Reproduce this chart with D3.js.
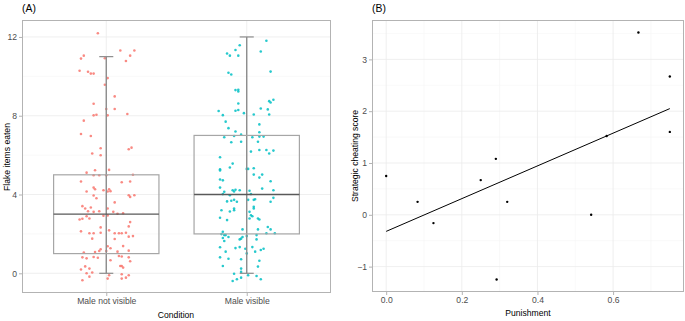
<!DOCTYPE html>
<html lang="en">
  <head>
    <meta charset="UTF-8" />
    <title>flake and punishment</title>
    <script src="https://cdn.jsdelivr.net/npm/d3@7/dist/d3.min.js"></script>
    <style>
      body { margin: 0; background: #fff; }
      text { font-family: "Liberation Sans", Arial, sans-serif; }
    </style>
  </head>
  <body>
    <div id="wrapper"></div>
    <script>
      // ---- panel A data ----
      const conditions = ["Male not visible", "Male visible"];
      const pointColors = ["#F8766D", "#00BFC4"];
      const boxLower = [1, 2];
      const boxMedian = [3, 4];
      const boxUpper = [5, 7];
      const whiskerLow = [0, 0];
      const whiskerHigh = [11, 12];
      const flakeTicks = [0, 4, 8, 12];
      const flakeMinor = [2, 6, 10];

      // [items eaten, jitter offset from category]
      const notVisiblePoints = [
        [12.19,-0.06],[11.31,0.10],[11.31,0.20],[11.05,0.17],[11.05,-0.16],[10.9,-0.18],[10.78,0.14],
        [10.92,-0.01],[10.28,-0.19],[10.23,-0.13],[10.14,-0.11],[10.14,-0.09],[9.91,0.01],[9.57,-0.01],
        [8.98,0.06],[8.61,-0.09],[8.34,0.0],[8.34,0.06],[8.09,0.15],[8.05,-0.07],[8.02,-0.09],[8.02,0.01],
        [7.75,-0.16],[7.07,-0.18],[6.97,-0.11],[6.35,-0.04],[6.38,0.18],[6.3,0.16],[6.08,-0.10],[5.99,-0.04],
        [5.25,0.02],[5.23,-0.08],[5.11,-0.14],[4.98,-0.09],[4.98,-0.05],[4.98,0.0],[5.0,0.19],[4.66,-0.18],
        [4.62,0.11],[4.66,0.17],[4.35,-0.09],[4.27,-0.08],[4.22,-0.02],[4.27,0.02],[4.17,0.03],[4.15,0.01],
        [4.15,-0.14],[3.95,-0.09],[3.81,-0.07],[3.96,0.16],[3.88,0.17],[3.96,0.20],[3.6,0.06],[3.41,-0.17],
        [3.29,-0.15],[3.34,-0.11],[3.29,0.01],[3.15,-0.13],[3.12,-0.09],[3.15,-0.05],[3.12,0.05],[3.02,0.08],
        [3.05,0.12],[2.92,-0.02],[2.94,0.01],[2.9,-0.14],[2.78,-0.12],[2.73,-0.19],[2.77,-0.17],[2.6,0.17],
        [2.38,0.16],[2.33,-0.04],[2.18,0.02],[2.13,-0.18],[2.03,-0.12],[2.03,-0.09],[2.06,-0.04],[2.03,0.06],
        [2.03,0.09],[2.03,0.11],[2.06,0.14],[1.86,0.16],[1.89,0.19],[1.76,-0.10],[1.74,0.06],[1.38,0.12],
        [1.37,0.01],[1.27,0.03],[1.22,-0.04],[1.13,-0.05],[1.13,0.0],[1.08,-0.08],[1.10,0.08],[1.15,0.16],
        [1.05,-0.16],[0.79,-0.06],[0.83,-0.09],[0.81,-0.17],[0.76,-0.14],[0.66,0.03],[0.88,0.09],[0.85,0.11],
        [0.81,0.16],[0.61,0.17],[0.37,0.10],[0.37,0.11],[0.29,0.12],[0.35,-0.15],[0.24,-0.12],[0.19,-0.18],
        [0.04,-0.10],[0.0,-0.14],[-0.1,0.02],[-0.05,0.11],[-0.1,0.16],[-0.17,-0.12],[-0.27,0.01],[-0.27,0.11],
        [-0.22,0.14],[-0.35,-0.17]
      ];
      const visiblePoints = [
        [11.81,0.14],[11.58,-0.05],[11.34,-0.08],[11.26,0.10],[11.16,-0.14],[11.05,-0.12],[11.05,-0.06],
        [10.24,0.17],[10.18,-0.13],[10.09,-0.11],[9.3,-0.08],[9.32,-0.06],[9.23,-0.06],[8.62,-0.06],
        [8.81,0.19],[8.74,0.16],[8.67,0.17],[8.24,-0.20],[8.25,-0.08],[8.29,-0.06],[8.37,0.10],[8.32,0.15],
        [8.03,-0.17],[8.13,-0.02],[8.06,0.05],[8.06,0.16],[7.7,-0.15],[7.56,0.09],[7.37,-0.13],[7.2,-0.08],
        [7.16,0.09],[6.91,-0.16],[6.97,-0.09],[7.04,-0.04],[6.91,0.04],[6.94,0.09],[6.94,0.12],[6.65,-0.11],
        [6.68,-0.04],[6.68,0.08],[6.18,0.03],[6.26,0.09],[6.26,0.14],[6.23,0.19],[6.08,0.16],[5.89,-0.19],
        [5.57,-0.10],[5.28,-0.19],[5.22,-0.19],[5.37,-0.12],[5.3,0.0],[5.3,0.01],[5.33,0.05],[5.01,0.05],
        [5.01,0.11],[4.86,0.09],[4.76,-0.19],[4.72,-0.17],[4.67,0.17],[4.35,-0.19],[4.22,-0.10],[4.24,-0.08],
        [4.22,-0.05],[4.15,-0.09],[4.14,-0.16],[4.19,0.02],[4.3,0.11],[4.22,0.19],[4.02,-0.17],[3.96,-0.12],
        [4.02,0.03],[3.83,0.19],[3.65,-0.14],[3.68,-0.11],[3.73,-0.09],[3.63,-0.07],[3.73,0.01],[3.73,0.05],
        [3.76,0.06],[3.63,0.17],[3.38,0.05],[3.29,0.05],[3.2,-0.18],[3.14,-0.12],[3.29,-0.09],[3.2,-0.09],
        [3.12,0.02],[2.95,0.03],[2.9,0.04],[2.78,0.02],[2.78,0.08],[2.73,0.09],[2.82,-0.19],[2.7,-0.14],
        [2.35,0.15],[2.23,0.17],[2.23,-0.03],[2.23,0.08],[2.03,0.14],[2.03,0.20],[1.94,0.07],[2.11,-0.17],
        [1.99,-0.18],[1.94,-0.16],[1.94,-0.15],[1.79,-0.17],[1.64,-0.16],[1.84,-0.13],[1.72,-0.05],[1.76,-0.04],
        [1.84,-0.03],[1.89,0.0],[1.72,0.07],[1.28,-0.08],[1.33,-0.05],[1.25,-0.01],[1.33,0.04],[1.25,0.12],
        [1.18,0.10],[1.1,0.06],[1.32,-0.19],[1.1,-0.15],[1.01,0.0],[0.81,-0.19],[0.74,-0.13],[0.71,-0.04],
        [0.64,0.09],[0.37,-0.17],[0.34,0.08],[0.24,-0.04],[0.07,-0.04],[-0.02,-0.09],[-0.1,0.01],[-0.14,0.07],
        [-0.22,-0.04],[-0.3,-0.07],[-0.39,-0.10],[-0.3,0.10]
      ];

      // ---- panel B data ----
      const punishment = [0, 0.083, 0.125, 0.25, 0.29, 0.292, 0.32, 0.542, 0.583, 0.667, 0.75, 0.75];
      const cheating = [0.75, 0.25, -0.16, 0.67, 1.08, -1.25, 0.25, 0.0, 1.52, 3.52, 2.67, 1.6];
      const fitX = [0, 0.75];
      const fitY = [-0.32, 2.05];
      const punishTicks = [0, 0.2, 0.4, 0.6];
      const punishMinor = [0.1, 0.3, 0.5, 0.7];
      const cheatTicks = [-1, 0, 1, 2, 3];
      const cheatMinor = [-0.5, 0.5, 1.5, 2.5, 3.5];

      const width = 685, height = 321;
      const svg = d3.select("#wrapper").append("svg")
        .attr("width", width).attr("height", height);

      const gridMajor = "#ebebeb", gridMinor = "#f5f5f5", border = "#b3b3b3";
      const tickText = "#4d4d4d";

      function panelFrame(x0, x1, y0, y1, xScale, yScale, xMajor, xMinor, yMajor, yMinor) {
        const g = svg.append("g");
        g.append("rect").attr("x", x0).attr("y", y0).attr("width", x1 - x0).attr("height", y1 - y0)
          .attr("fill", "#fff");
        g.selectAll(".xmin").data(xMinor).join("line")
          .attr("x1", d => xScale(d)).attr("x2", d => xScale(d)).attr("y1", y0).attr("y2", y1)
          .attr("stroke", gridMinor).attr("stroke-width", 0.6);
        g.selectAll(".ymin").data(yMinor).join("line").attr("class", "ymin")
          .attr("y1", d => yScale(d)).attr("y2", d => yScale(d)).attr("x1", x0).attr("x2", x1)
          .attr("stroke", gridMinor).attr("stroke-width", 0.6);
        g.selectAll(".xmaj").data(xMajor).join("line").attr("class", "xmaj")
          .attr("x1", d => xScale(d)).attr("x2", d => xScale(d)).attr("y1", y0).attr("y2", y1)
          .attr("stroke", gridMajor).attr("stroke-width", 0.8);
        g.selectAll(".ymaj").data(yMajor).join("line").attr("class", "ymaj")
          .attr("y1", d => yScale(d)).attr("y2", d => yScale(d)).attr("x1", x0).attr("x2", x1)
          .attr("stroke", gridMajor).attr("stroke-width", 0.8);
        return g;
      }

      function axes(x0, x1, y0, y1, xAxis, yAxis) {
        const gx = svg.append("g").attr("transform", `translate(0,${y1})`).call(xAxis);
        const gy = svg.append("g").attr("transform", `translate(${x0},0)`).call(yAxis);
        [gx, gy].forEach(a => {
          a.select(".domain").remove();
          a.selectAll(".tick line").attr("stroke", border);
          a.selectAll(".tick text").attr("fill", tickText)
            .style("font-size", "8.6px").style("font-family", "'Liberation Sans', Arial, sans-serif");
        });
        svg.append("rect").attr("x", x0 + 0.5).attr("y", y0 + 0.5)
          .attr("width", x1 - x0 - 1).attr("height", y1 - y0 - 1)
          .attr("fill", "none").attr("stroke", border).attr("stroke-width", 1);
      }

      // ---------- Panel A ----------
      const A = { x0: 22, x1: 331, y0: 20, y1: 293 };
      const xA = d3.scaleLinear().domain([0.4, 2.6]).range([A.x0, A.x1]);
      const yA = d3.scaleLinear().domain([-1.0, 12.86]).range([A.y1, A.y0]);
      panelFrame(A.x0, A.x1, A.y0, A.y1, xA, yA, [1, 2], [], flakeTicks, flakeMinor);

      const groups = [notVisiblePoints, visiblePoints];
      groups.forEach((pts, i) => {
        svg.append("g").selectAll("circle").data(pts).join("circle")
          .attr("cx", d => xA(i + 1 + d[1]))
          .attr("cy", d => yA(d[0]))
          .attr("r", 1.3)
          .attr("fill", pointColors[i])
          .attr("opacity", 0.85);
      });

      const boxes = conditions.map((c, i) => ({
        i: i + 1, lo: boxLower[i], med: boxMedian[i], hi: boxUpper[i],
        wlo: whiskerLow[i], whi: whiskerHigh[i]
      }));
      const boxG = svg.append("g");
      const halfBox = 0.375, halfCap = 0.05;
      boxes.forEach(b => {
        boxG.append("line").attr("x1", xA(b.i)).attr("x2", xA(b.i))
          .attr("y1", yA(b.wlo)).attr("y2", yA(b.whi))
          .attr("stroke", "#8c8c8c").attr("stroke-width", 1.4);
        [b.wlo, b.whi].forEach(v => {
          boxG.append("line").attr("x1", xA(b.i - halfCap)).attr("x2", xA(b.i + halfCap))
            .attr("y1", yA(v)).attr("y2", yA(v))
            .attr("stroke", "#8c8c8c").attr("stroke-width", 1.2);
        });
        boxG.append("rect").attr("x", xA(b.i - halfBox)).attr("y", yA(b.hi))
          .attr("width", xA(b.i + halfBox) - xA(b.i - halfBox))
          .attr("height", yA(b.lo) - yA(b.hi))
          .attr("fill", "none").attr("stroke", "#a6a6a6").attr("stroke-width", 1.2);
        boxG.append("line").attr("x1", xA(b.i - halfBox)).attr("x2", xA(b.i + halfBox))
          .attr("y1", yA(b.med)).attr("y2", yA(b.med))
          .attr("stroke", "#595959").attr("stroke-width", 1.3);
      });

      axes(A.x0, A.x1, A.y0, A.y1,
        d3.axisBottom(xA).tickValues([1, 2]).tickFormat(d => conditions[d - 1]).tickSize(3).tickPadding(2),
        d3.axisLeft(yA).tickValues(flakeTicks).tickSize(3).tickPadding(2));

      // ---------- Panel B ----------
      const B = { x0: 372, x1: 684, y0: 20, y1: 292 };
      const xB = d3.scaleLinear().domain([-0.0375, 0.7875]).range([B.x0, B.x1]);
      const yB = d3.scaleLinear().domain([-1.49, 3.76]).range([B.y1, B.y0]);
      panelFrame(B.x0, B.x1, B.y0, B.y1, xB, yB, punishTicks, punishMinor, cheatTicks, cheatMinor);

      svg.append("g").selectAll("circle").data(punishment).join("circle")
        .attr("cx", d => xB(d))
        .attr("cy", (d, i) => yB(cheating[i]))
        .attr("r", 1.2).attr("fill", "#000");

      svg.append("path")
        .datum(fitX.map((x, i) => [x, fitY[i]]))
        .attr("d", d3.line().x(d => xB(d[0])).y(d => yB(d[1])))
        .attr("fill", "none").attr("stroke", "#000").attr("stroke-width", 1);

      axes(B.x0, B.x1, B.y0, B.y1,
        d3.axisBottom(xB).tickValues(punishTicks).tickFormat(d3.format(".1f")).tickSize(3).tickPadding(2),
        d3.axisLeft(yB).tickValues(cheatTicks).tickFormat(d3.format("d")).tickSize(3).tickPadding(2));

      // ---------- titles ----------
      const title = (x, y, txt, rot, size) => {
        const t = svg.append("text").attr("text-anchor", "middle")
          .attr("fill", "#000").style("font-size", (size || 8.6) + "px").text(txt);
        if (rot) t.attr("transform", `translate(${x},${y}) rotate(-90)`);
        else t.attr("x", x).attr("y", y);
        return t;
      };
      title(176, 318, "Condition");
      title(528, 316, "Punishment");
      title(10, 157, "Flake items eaten", true);
      title(358, 156, "Strategic cheating score", true);
      title(22, 12, "(A)", false, 10.4).attr("text-anchor", "start");
      title(372, 12, "(B)", false, 10.4).attr("text-anchor", "start");
    </script>
  </body>
</html>
